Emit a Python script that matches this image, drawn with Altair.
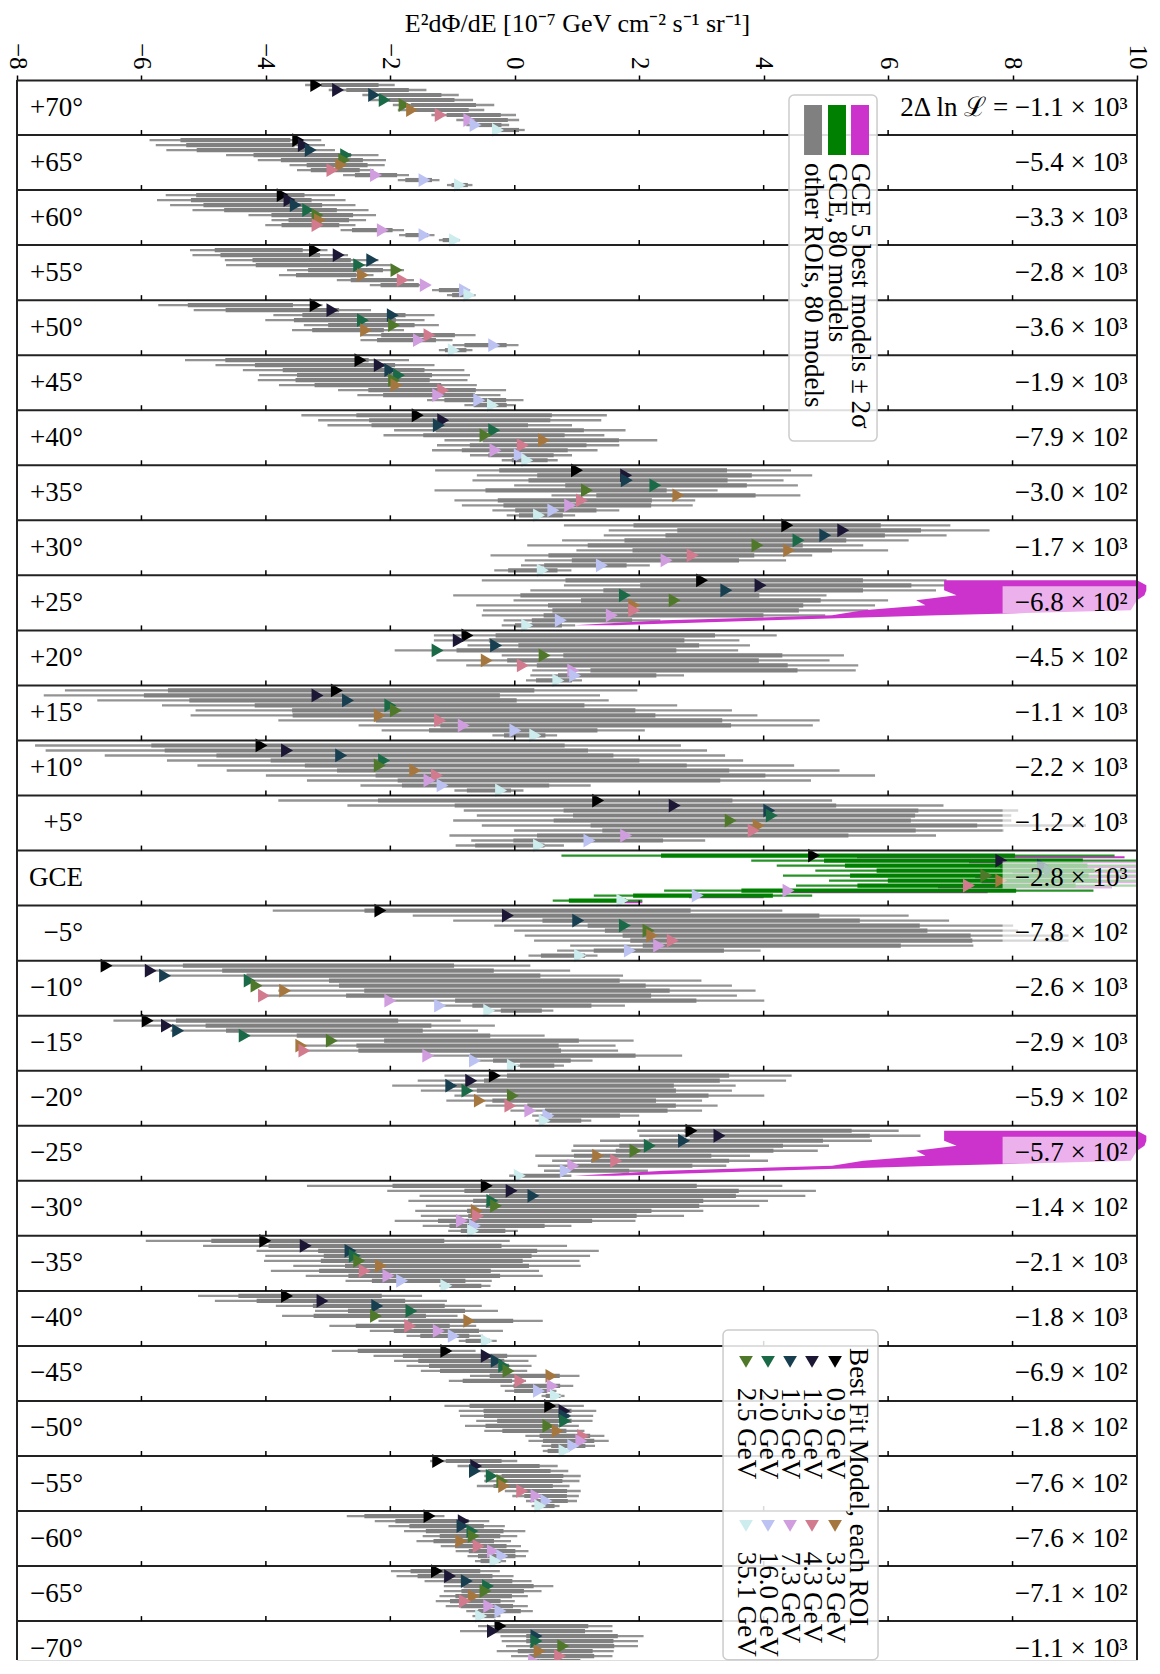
import altair as alt
import pandas as pd

# ---------------- data ----------------
ROI_LABELS = ["+70°", "+65°", "+60°", "+55°", "+50°", "+45°", "+40°", "+35°", "+30°",
              "+25°", "+20°", "+15°", "+10°", "+5°", "GCE", "−5°", "−10°", "−15°",
              "−20°", "−25°", "−30°", "−35°", "−40°", "−45°", "−50°", "−55°", "−60°",
              "−65°", "−70°"]

DLNL_LABELS = ["2Δ ln ℒ = −1.1 × 10³", "−5.4 × 10³", "−3.3 × 10³", "−2.8 × 10³",
               "−3.6 × 10³", "−1.9 × 10³", "−7.9 × 10²", "−3.0 × 10²", "−1.7 × 10³",
               "−6.8 × 10²", "−4.5 × 10²", "−1.1 × 10³", "−2.2 × 10³", "−1.2 × 10³",
               "−2.8 × 10³", "−7.8 × 10²", "−2.6 × 10³", "−2.9 × 10³", "−5.9 × 10²",
               "−5.7 × 10²", "−1.4 × 10²", "−2.1 × 10³", "−1.8 × 10³", "−6.9 × 10²",
               "−1.8 × 10²", "−7.6 × 10²", "−7.6 × 10²", "−7.1 × 10²", "−1.1 × 10³"]

ENERGY_LABELS = ["0.9 GeV", "1.2 GeV", "1.5 GeV", "2.0 GeV", "2.5 GeV",
                 "3.3 GeV", "4.3 GeV", "7.3 GeV", "16.0 GeV", "35.1 GeV"]
ENERGY_COLORS = ["#000000", "#1c1734", "#173f50", "#1b6a47", "#50782b",
                 "#a5773f", "#d27b8e", "#d09ddf", "#bcc3f3", "#cdeced"]

X_TICKS = [-8, -6, -4, -2, 0, 2, 4, 6, 8, 10]

# best-fit value per ROI (rows) and energy bin (columns)
BEST_FIT = [
    [-3.19, -2.84, -2.26, -2.09, -1.77, -1.65, -1.19, -0.73, -0.63, -0.27],
    [-3.48, -3.39, -3.28, -2.71, -2.74, -2.79, -2.93, -2.23, -1.45, -0.88],
    [-3.73, -3.62, -3.52, -3.32, -3.17, -3.13, -3.17, -2.12, -1.45, -0.96],
    [-3.21, -2.83, -2.29, -2.50, -1.90, -2.44, -1.80, -1.43, -0.80, -0.73],
    [-3.20, -2.93, -1.96, -2.44, -1.94, -2.39, -1.37, -1.54, -0.33, -0.98],
    [-2.48, -2.17, -2.00, -1.86, -1.94, -1.90, -1.15, -1.23, -0.57, -0.35],
    [-1.56, -1.15, -1.22, -0.33, -0.47, 0.47, 0.13, -0.31, 0.08, 0.20],
    [1.00, 1.79, 1.80, 2.26, 1.16, 2.63, 1.08, 0.89, 0.62, 0.39],
    [4.38, 5.28, 4.99, 4.56, 3.90, 4.41, 2.86, 2.44, 1.40, 0.45],
    [3.01, 3.95, 3.40, 1.77, 2.57, 1.92, 1.92, 1.56, 0.74, 0.20],
    [-0.76, -0.90, -0.30, -1.24, 0.48, -0.45, 0.13, 0.94, 0.97, 0.70],
    [-2.86, -3.17, -2.68, -2.00, -1.91, -2.17, -1.20, -0.82, 0.01, 0.33],
    [-4.07, -3.66, -2.79, -2.10, -2.17, -1.60, -1.25, -1.37, -1.16, -0.22],
    [1.34, 2.57, 4.09, 4.13, 3.47, 3.92, 3.84, 1.79, 1.20, 0.39],
    [4.81, 7.82, 8.49, 8.60, 7.58, 7.82, 7.30, 4.40, 2.94, 1.73],
    [-2.16, -0.11, 1.02, 1.77, 2.15, 2.21, 2.54, 2.32, 1.85, 1.05],
    [-6.56, -5.85, -5.62, -4.26, -4.15, -3.69, -4.03, -2.00, -1.20, -0.41],
    [-5.90, -5.59, -5.41, -4.34, -2.94, -3.43, -3.38, -1.39, -0.64, -0.03],
    [-0.32, -0.70, -1.02, -0.76, -0.03, -0.56, -0.07, 0.25, 0.54, 0.48],
    [2.84, 3.29, 2.72, 2.17, 1.94, 1.34, 1.63, 0.94, 0.82, 0.08],
    [-0.45, -0.05, 0.30, -0.36, -0.30, -0.61, -0.59, -0.85, -0.64, -0.67],
    [-4.01, -3.36, -2.64, -2.57, -2.50, -2.15, -2.41, -2.03, -1.81, -1.10],
    [-3.66, -3.09, -2.21, -1.66, -2.23, -0.73, -1.68, -1.22, -0.98, -0.45],
    [-1.10, -0.45, -0.29, -0.17, -0.10, 0.59, 0.09, 0.61, 0.39, 0.66],
    [0.57, 0.80, 0.81, 0.81, 0.54, 0.69, 1.10, 1.07, 0.94, 0.80],
    [-1.23, -0.62, -0.64, -0.37, -0.20, -0.17, 0.12, 0.35, 0.51, 0.41],
    [-1.37, -0.82, -0.84, -0.68, -0.66, -0.86, -0.58, -0.35, -0.20, -0.31],
    [-1.25, -1.04, -0.77, -0.43, -0.47, -0.66, -0.80, -0.41, -0.23, -0.54],
    [-0.23, -0.35, 0.35, 0.35, 0.78, 0.40, 0.73, 0.31, 0.49, 0.21],
]

# spread of the 80 models: low and high end per ROI and energy bin
SPREAD_LO = [
    [-3.37, -2.99, -2.45, -2.33, -1.96, -1.88, -1.34, -0.94, -0.78, -0.35],
    [-5.87, -5.77, -5.60, -4.64, -4.13, -3.62, -3.50, -2.76, -1.88, -1.09],
    [-5.61, -5.75, -5.54, -5.18, -4.28, -3.91, -4.01, -2.80, -1.86, -1.22],
    [-5.22, -5.18, -4.66, -4.64, -3.66, -3.79, -2.86, -2.33, -1.33, -1.09],
    [-5.73, -5.16, -3.88, -4.01, -3.39, -3.58, -2.48, -2.48, -1.00, -1.22],
    [-5.30, -4.81, -4.37, -4.11, -4.13, -3.79, -2.84, -2.53, -1.41, -0.81],
    [-3.43, -3.16, -3.01, -1.94, -2.11, -1.13, -1.25, -1.33, -0.72, -0.21],
    [-1.28, -0.61, -0.68, -0.01, -1.29, 0.59, -0.97, -0.85, -0.36, -0.13],
    [0.79, 1.51, 1.43, 0.76, 0.20, 0.99, -0.39, 0.16, 0.10, -0.33],
    [-0.53, 0.79, 0.25, -0.99, -0.02, -0.62, -0.51, -0.53, -0.18, -0.21],
    [-1.30, -1.30, -0.76, -1.93, -0.21, -1.26, -0.78, 0.28, 0.25, 0.18],
    [-7.23, -7.57, -6.71, -5.67, -5.13, -5.21, -3.80, -2.51, -2.14, -0.36],
    [-7.71, -7.54, -6.59, -5.59, -5.10, -4.63, -4.00, -3.34, -2.48, -0.97],
    [-3.80, -2.69, -0.82, -0.61, -0.99, -0.53, -0.01, -1.05, -0.70, -0.95],
    [0.75, 3.80, 4.21, 4.83, 4.31, 5.05, 4.52, 2.40, 1.27, 0.61],
    [-3.89, -1.64, -0.99, -0.33, -0.01, 0.16, 0.31, 0.89, 0.68, 0.22],
    [-6.56, -5.93, -5.64, -4.30, -4.21, -3.80, -4.09, -2.05, -1.22, -0.41],
    [-6.45, -5.99, -5.53, -4.38, -2.98, -3.46, -3.43, -1.47, -0.70, -0.07],
    [-1.13, -1.56, -1.97, -1.51, -0.97, -1.10, -0.47, -0.07, 0.28, 0.33],
    [1.97, 2.00, 1.37, 0.94, 0.91, 0.33, 0.60, 0.37, 0.47, -0.09],
    [-3.34, -2.05, -1.53, -1.71, -1.43, -1.60, -1.51, -1.93, -1.48, -1.07],
    [-5.93, -5.01, -4.15, -4.01, -4.03, -3.56, -3.92, -3.36, -2.72, -1.21],
    [-5.09, -4.82, -3.84, -3.21, -3.74, -2.19, -2.98, -2.33, -1.74, -0.90],
    [-2.94, -2.27, -1.94, -1.74, -1.51, -0.72, -1.06, -0.23, -0.16, 0.43],
    [-1.13, -0.90, -0.88, -0.62, -0.80, -0.49, 0.17, 0.22, 0.43, 0.45],
    [-1.36, -0.92, -0.72, -0.49, -0.49, -0.61, -0.16, -0.04, 0.18, 0.27],
    [-2.70, -2.25, -2.03, -1.78, -1.48, -1.58, -1.19, -0.95, -0.76, -0.64],
    [-1.99, -1.90, -1.45, -1.14, -1.14, -1.21, -1.27, -1.11, -0.78, -0.68],
    [-0.59, -0.88, -0.23, -0.21, -0.14, -0.29, -0.06, -0.02, 0.02, 0.10],
]
SPREAD_HI = [
    [-1.93, -1.42, -0.90, -0.67, -0.33, -0.49, 0.02, 0.07, -0.09, 0.16],
    [-3.11, -3.05, -2.89, -2.19, -2.07, -2.09, -2.27, -1.70, -1.21, -0.68],
    [-2.89, -2.72, -2.56, -2.35, -2.23, -2.39, -2.56, -1.78, -1.29, -0.88],
    [-3.01, -2.68, -2.19, -1.99, -1.78, -2.27, -1.62, -1.37, -0.72, -0.63],
    [-3.09, -2.31, -1.29, -1.45, -1.22, -1.78, -0.63, -1.00, 0.06, -0.68],
    [-1.70, -1.29, -0.81, -0.72, -0.76, -0.61, -0.14, -0.23, 0.14, 0.02],
    [1.48, 1.39, 0.92, 1.78, 1.44, 2.29, 1.68, 1.33, 0.92, 0.69],
    [4.44, 4.78, 4.32, 4.55, 3.26, 4.59, 2.90, 2.86, 1.68, 0.97],
    [7.00, 7.63, 6.94, 6.33, 5.60, 6.00, 4.78, 4.36, 2.17, 0.91],
    [6.94, 7.60, 6.77, 5.01, 6.00, 5.79, 5.68, 4.99, 2.34, 0.97],
    [4.21, 3.61, 3.78, 3.59, 5.29, 5.06, 5.52, 5.48, 2.72, 1.08],
    [1.97, 1.37, 1.51, 2.61, 3.49, 3.90, 4.90, 4.79, 2.09, 0.68],
    [2.67, 3.09, 3.38, 3.67, 4.49, 5.22, 5.79, 4.76, 1.22, 0.14],
    [5.10, 6.89, 8.09, 7.98, 7.98, 9.18, 7.86, 6.77, 3.06, 0.79],
    [9.64, 10.30, 10.30, 10.30, 10.30, 10.30, 10.00, 9.30, 4.78, 2.05],
    [4.30, 6.33, 6.98, 8.01, 8.09, 8.90, 8.90, 7.37, 3.95, 1.33],
    [0.25, 0.89, 1.74, 3.00, 3.49, 3.87, 3.57, 4.01, 1.77, 0.62],
    [-0.87, -0.32, -0.59, 0.48, 1.91, 1.62, 1.66, 2.69, 1.25, 0.79],
    [4.45, 4.36, 3.55, 3.49, 4.01, 3.01, 3.26, 3.01, 2.00, 1.23],
    [6.17, 6.52, 5.74, 5.05, 4.87, 3.78, 4.07, 3.40, 2.14, 0.91],
    [4.30, 4.84, 4.67, 4.07, 3.93, 3.03, 2.72, 1.94, 0.91, 0.05],
    [-0.08, 0.84, 1.35, 1.21, 1.04, 1.06, 0.39, 0.45, -0.37, -0.39],
    [-1.49, -1.09, -0.53, -0.27, -0.92, 0.45, -0.62, -0.19, -0.51, -0.29],
    [-0.63, 0.35, 0.22, 0.27, 0.20, 1.04, 0.18, 0.94, 0.67, 0.80],
    [1.11, 1.31, 1.26, 1.25, 1.03, 1.12, 1.44, 1.51, 1.29, 0.88],
    [0.04, 0.69, 0.86, 1.06, 1.04, 0.88, 1.06, 1.03, 1.00, 0.72],
    [-1.13, -0.41, -0.16, 0.17, 0.04, -0.06, 0.10, 0.22, 0.18, -0.14],
    [-0.24, -0.02, 0.27, 0.62, 0.43, 0.21, 0.00, 0.21, 0.29, -0.23],
    [1.57, 1.57, 2.07, 1.98, 1.98, 1.59, 1.57, 1.29, 1.04, 0.59],
]

# GCE 5 best models +/- 2 sigma (thin lines in the GCE row)
GCE5_LO = [5.5, 7.3, 7.8, 8.0, 7.4, 7.5, 6.8, 4.3, 2.8, 1.75]
GCE5_HI = [9.8, 10.6, 10.6, 10.6, 10.6, 10.6, 9.6, 7.6, 4.0, 2.05]
# the same GCE band as drawn in the +25 and -25 rows
BAND_ROWS = ["+25°", "−25°"]
BAND_LO = [6.9, 6.9, 6.9, 7.1, 6.45, 6.6, 5.6, 5.1, 2.4, 0.95]
BAND_HI = [10.0, 10.15, 10.15, 10.12, 10.0, 9.95, 9.9, 6.8, 4.1, 1.6]

LEGEND1_LABELS = ["other ROIs, 80 models", "GCE, 80 models", "GCE 5 best models ± 2σ"]
LEGEND1_COLORS = ["#808080", "#008000", "#cc33cc"]
LEGEND2_TITLE = "Best Fit Model, each ROI"

# ---------------- layout ----------------
ROW_PX = 55.04
PLOT_W = 1120
PLOT_H = 1580
Y_MAX = PLOT_H / ROW_PX
STEP = 5.0 / ROW_PX
FONT = "Liberation Serif"
GRAY = "#808080"
GREEN = "#008000"
MAGENTA = "#cc33cc"
GCE_ROW = ROI_LABELS.index("GCE")

X_SCALE = alt.Scale(domain=[-8, 10], nice=False, zero=False)
Y_SCALE = alt.Scale(domain=[0, Y_MAX], nice=False, zero=False, reverse=True)
X_TITLE = "E²dΦ/dE   [10⁻⁷ GeV cm⁻² s⁻¹ sr⁻¹]"
X_AXIS = alt.Axis(orient="top", values=X_TICKS, labelAngle=90, labelAlign="right",
                  labelBaseline="middle", labelPadding=6, labelOverlap=False,
                  labelFlush=False, labelBound=False, tickSize=5, tickWidth=1.5,
                  tickColor="black", domainColor="#222222", domainWidth=2,
                  grid=False, labelFont=FONT, labelFontSize=25, labelColor="black",
                  titleFont=FONT, titleFontSize=26, titleFontWeight="normal",
                  titleColor="black", titlePadding=6, format="d")


def X(field="x"):
    return alt.X(f"{field}:Q", scale=X_SCALE, axis=X_AXIS, title=X_TITLE, stack=None)


def Y(field="y"):
    return alt.Y(f"{field}:Q", scale=Y_SCALE, axis=None)


# ---------------- tables ----------------
bar_rows, mark_rows = [], []
for r, roi in enumerate(ROI_LABELS):
    for b in range(10):
        y = r + (b + 1) * STEP
        lo, hi = SPREAD_LO[r][b], SPREAD_HI[r][b]
        w = hi - lo
        bar_rows.append(dict(y=y, x=lo, x2=hi, c1=lo + 0.18 * w, c2=hi - 0.18 * w,
                             col=GREEN if r == GCE_ROW else GRAY))
        mark_rows.append(dict(y=y, x=BEST_FIT[r][b], energy=ENERGY_LABELS[b]))
bars = pd.DataFrame(bar_rows)
marks = pd.DataFrame(mark_rows)

gce5 = pd.DataFrame([dict(y=GCE_ROW + (b + 1) * STEP + 0.03, x=GCE5_LO[b], x2=GCE5_HI[b])
                     for b in range(10)])

band_frames = []
for name in BAND_ROWS:
    r = ROI_LABELS.index(name)
    band_frames.append(pd.DataFrame([dict(y=r + (b + 1) * STEP, x=BAND_LO[b], x2=BAND_HI[b])
                                     for b in range(10)]))

labels = pd.DataFrame([dict(y=r + 0.5, roi=ROI_LABELS[r], dl=DLNL_LABELS[r],
                            xl=-6.94, xr=9.85, bx=(6.1 if r == 0 else 7.84), bx2=10.0,
                            by=r + 0.2, by2=r + 0.69)
                       for r in range(len(ROI_LABELS))])

bounds = pd.DataFrame([dict(y=k, x=-8, x2=10) for k in range(1, len(ROI_LABELS))])
ticks = pd.DataFrame([dict(y=k - 5.0 / ROW_PX, y2=k, x=t)
                      for k in range(1, len(ROI_LABELS)) for t in X_TICKS])
sides = pd.DataFrame([dict(x=-8, y=0, y2=Y_MAX), dict(x=10, y=0, y2=Y_MAX)])

# legends (positions in data units)
leg_boxes = pd.DataFrame([dict(x=4.407, x2=5.822, y=0.273, y2=6.56),
                          dict(x=3.347, x2=5.838, y=22.71, y2=28.70)])
leg1_sw = pd.DataFrame([dict(x=x0, x2=x0 + 0.289, y=0.454, y2=1.363, col=c)
                        for x0, c in zip([4.649, 5.034, 5.404], LEGEND1_COLORS)])
leg1_tx = pd.DataFrame([dict(x=xc, y=1.508, t=t)
                        for xc, t in zip([4.79, 5.18, 5.55], LEGEND1_LABELS)])
col_x = [5.147, 4.777, 4.424, 4.070, 3.716]
leg2_mk, leg2_tx = [], [dict(x=5.516, y=23.04, t=LEGEND2_TITLE)]
for i, e in enumerate(ENERGY_LABELS):
    cx = col_x[i % 5]
    my, ty = (23.29, 23.76) if i < 5 else (26.27, 26.74)
    leg2_mk.append(dict(x=cx, y=my, energy=e))
    leg2_tx.append(dict(x=cx, y=ty, t=e))
leg2_mk = pd.DataFrame(leg2_mk)
leg2_tx = pd.DataFrame(leg2_tx)

COLOR = alt.Color("energy:N", scale=alt.Scale(domain=ENERGY_LABELS, range=ENERGY_COLORS),
                  legend=None)

# ---------------- layers ----------------
band_layers = [alt.Chart(df).mark_area(orient="horizontal", color=MAGENTA, opacity=1,
                                       clip=False).encode(y=Y(), x=X(), x2="x2:Q")
               for df in band_frames]

gce5_layer = alt.Chart(gce5).mark_rule(color=MAGENTA, strokeWidth=2, clip=True).encode(
    y=Y(), x=X(), x2="x2:Q")

bar_outer = alt.Chart(bars).mark_rule(strokeWidth=2.3, opacity=0.85, clip=True).encode(
    y=Y(), x=X(), x2="x2:Q", color=alt.Color("col:N", scale=None))
bar_core = alt.Chart(bars).mark_rule(strokeWidth=4.2, clip=True).encode(
    y=Y(), x=X("c1"), x2="c2:Q", color=alt.Color("col:N", scale=None))

mark_layer = alt.Chart(marks).mark_point(shape="triangle-right", filled=True, size=190,
                                         opacity=1, clip=True).encode(
    y=Y(), x=X(), color=COLOR)

box_layer = alt.Chart(labels).mark_rect(color="white", opacity=0.62, clip=True).encode(
    y=Y("by"), y2="by2:Q", x=X("bx"), x2="bx2:Q")

bound_layer = alt.Chart(bounds).mark_rule(color="#222222", strokeWidth=2).encode(
    y=Y(), x=X(), x2="x2:Q")
tick_layer = alt.Chart(ticks).mark_rule(color="black", strokeWidth=1.5).encode(
    y=Y(), y2="y2:Q", x=X())
side_layer = alt.Chart(sides).mark_rule(color="#222222", strokeWidth=2).encode(
    y=Y(), y2="y2:Q", x=X())

roi_text = alt.Chart(labels).mark_text(align="right", baseline="middle", font=FONT,
                                       fontSize=27, color="black").encode(
    y=Y(), x=X("xl"), text="roi:N")
dl_text = alt.Chart(labels).mark_text(align="right", baseline="middle", font=FONT,
                                      fontSize=27, color="black").encode(
    y=Y(), x=X("xr"), text="dl:N")

leg_box_layer = alt.Chart(leg_boxes).mark_rect(fill="white", fillOpacity=0.85,
                                               stroke="#cccccc", strokeWidth=1.5,
                                               cornerRadius=5).encode(
    y=Y(), y2="y2:Q", x=X(), x2="x2:Q")
leg1_sw_layer = alt.Chart(leg1_sw).mark_rect().encode(
    y=Y(), y2="y2:Q", x=X(), x2="x2:Q", color=alt.Color("col:N", scale=None))
leg1_tx_layer = alt.Chart(leg1_tx).mark_text(angle=90, align="left", baseline="middle",
                                             font=FONT, fontSize=27, color="black").encode(
    y=Y(), x=X(), text="t:N")
leg2_mk_layer = alt.Chart(leg2_mk).mark_point(shape="triangle-down", filled=True, size=190,
                                              opacity=1).encode(
    y=Y(), x=X(), color=COLOR)
leg2_tx_layer = alt.Chart(leg2_tx).mark_text(angle=90, align="left", baseline="middle",
                                             font=FONT, fontSize=27, color="black").encode(
    y=Y(), x=X(), text="t:N")

chart = alt.layer(
    gce5_layer, bar_outer, bar_core, *band_layers, mark_layer, box_layer,
    bound_layer, tick_layer, side_layer, roi_text, dl_text,
    leg_box_layer, leg1_sw_layer, leg1_tx_layer, leg2_mk_layer, leg2_tx_layer,
).properties(
    width=PLOT_W, height=PLOT_H,
    autosize=alt.AutoSizeParams(type="none"),
    padding={"left": 9, "top": 72, "right": 14, "bottom": 2},
).configure_view(stroke=None).configure(background="white")

chart.save("out.html", embed_options={"renderer": "svg", "actions": False})
